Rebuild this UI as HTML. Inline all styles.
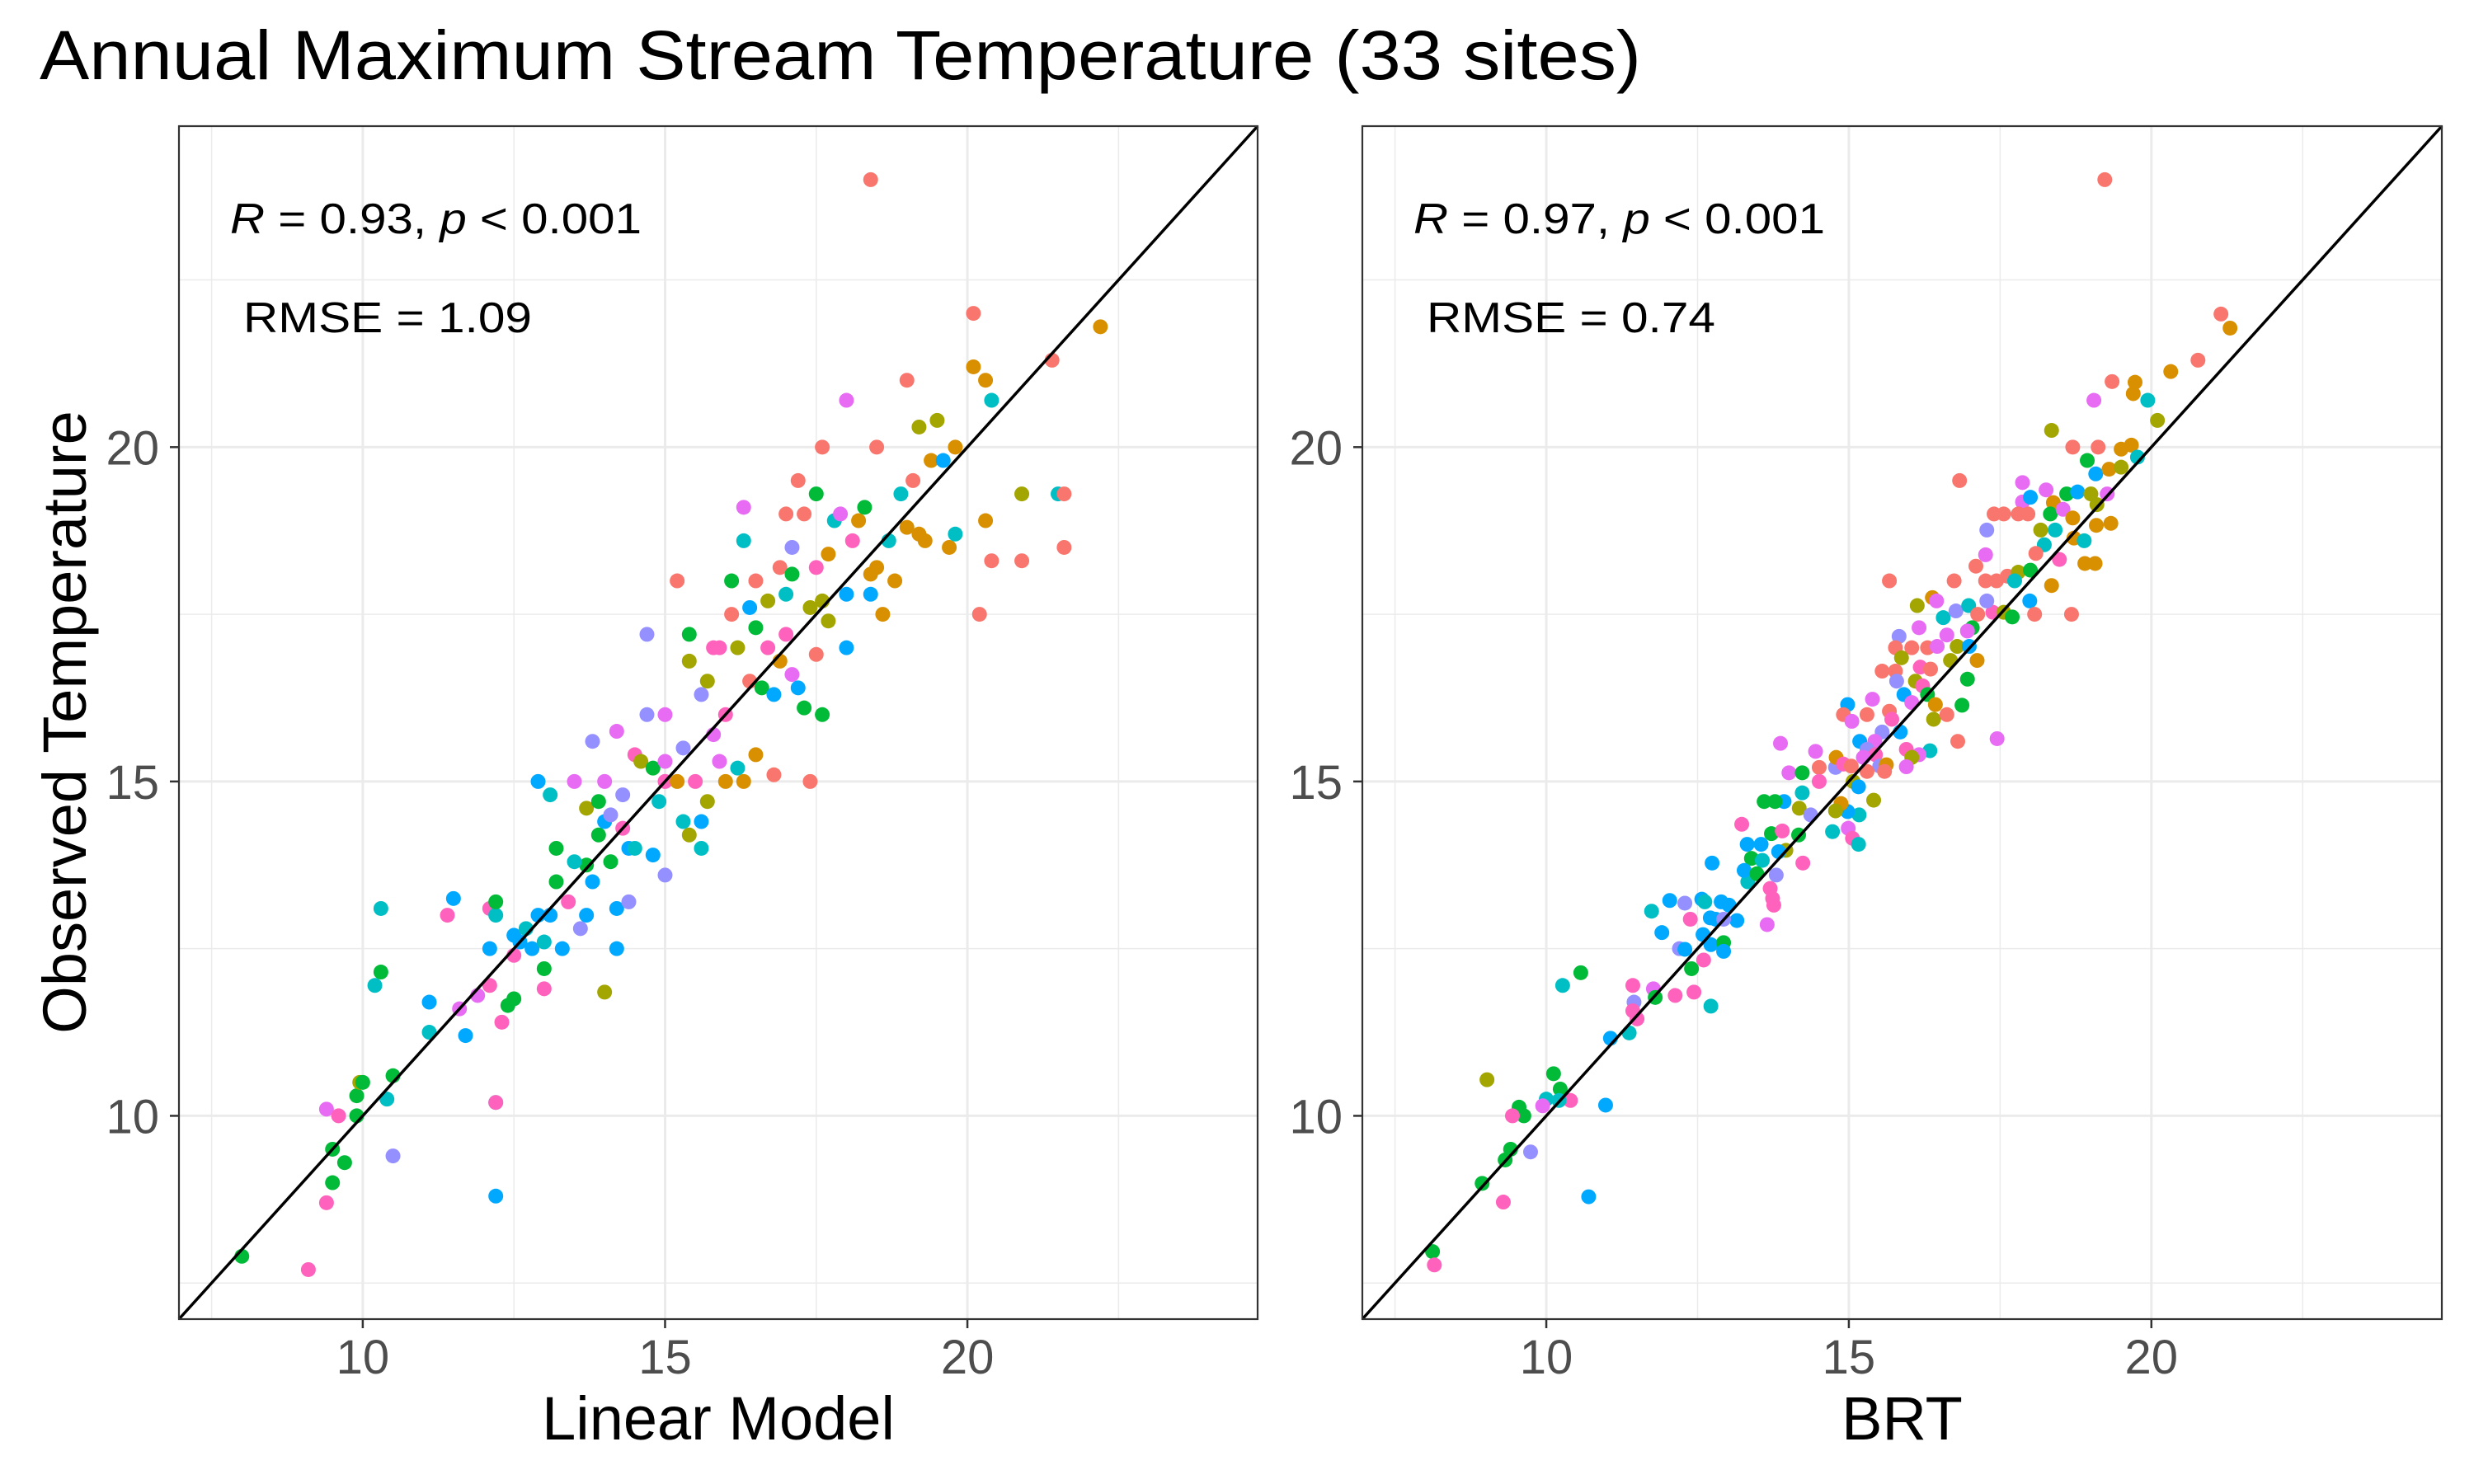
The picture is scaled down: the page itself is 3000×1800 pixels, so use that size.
<!DOCTYPE html>
<html><head><meta charset="utf-8"><style>
html,body{margin:0;padding:0;background:#fff;}
svg{display:block;font-family:"Liberation Sans",Arial,sans-serif;}
</style></head><body>
<svg id="chart" width="3000" height="1800" viewBox="0 0 3000 1800" xmlns="http://www.w3.org/2000/svg">
<rect width="3000" height="1800" fill="#fff"/>
<text x="48" y="96" font-size="84" textLength="1942" lengthAdjust="spacingAndGlyphs" fill="#000">Annual Maximum Stream Temperature (33 sites)</text>
<text transform="translate(104,876) rotate(-90)" text-anchor="middle" font-size="74" fill="#000">Observed Temperature</text>
<g id="p1"></g>
<g id="p2"></g>
</svg>
<script>
const ticks=[10,15,20];
const minorTicks=[7.5,12.5,17.5,22.5];
const domain=[6.96,24.8];
const palette={r:"#F8766D",o:"#D89000",ol:"#A3A500",g:"#00BA38",t:"#00BFC4",b:"#00A9FF",p:"#9590FF",m:"#E76BF3",k:"#FF62BC"};
const lmX=[8.0,9.1,9.4,9.5,9.5,9.7,9.4,9.6,9.9,9.9,9.95,10.0,10.4,10.5,10.5,12.2,12.2,12.2,10.2,10.3,10.3,11.1,11.1,11.4,11.5,11.6,11.7,11.9,12.1,12.1,12.1,12.2,12.2,12.3,12.4,12.5,12.5,12.5,12.6,12.7,12.8,12.9,12.9,13.0,13.0,13.0,13.1,13.1,13.2,13.2,13.3,13.4,13.5,13.6,13.7,13.7,13.7,13.8,13.8,13.9,13.9,14.0,14.0,14.0,14.1,14.1,14.2,14.2,14.2,14.3,14.4,14.4,14.5,14.5,14.6,14.7,14.7,14.8,14.8,14.9,15.0,15.0,15.0,15.2,15.2,15.3,15.3,15.4,15.4,15.4,15.5,15.6,15.6,15.6,15.7,15.7,15.8,15.8,15.9,15.9,16.0,16.0,16.1,16.1,16.2,16.2,16.3,16.3,16.3,16.4,16.4,16.5,16.5,16.6,16.7,16.7,16.8,16.8,16.9,16.9,17.0,17.0,17.1,17.1,17.1,17.2,17.2,17.3,17.3,17.4,17.4,17.5,17.5,17.5,17.6,17.6,17.6,17.7,17.7,17.8,17.9,18.0,18.0,18.0,18.1,18.2,18.3,18.4,18.4,18.4,18.5,18.5,18.6,18.7,18.8,18.9,19.0,19.0,19.1,19.2,19.2,19.3,19.4,19.5,19.6,19.7,19.8,19.8,20.1,20.1,20.2,20.3,20.3,20.4,20.4,20.9,20.9,21.4,21.5,21.6,21.6,22.2,15.0,14.3,13.5,16.5,17.0];
const lmY=[7.9,7.7,8.7,9.0,9.5,9.3,10.1,10.0,10.0,10.3,10.5,10.5,10.25,10.6,9.4,8.8,10.2,10.2,11.95,12.15,13.1,11.7,11.25,13.0,13.25,11.6,11.2,11.8,11.95,12.5,13.1,13.0,13.2,11.4,11.65,11.75,12.4,12.7,12.6,12.8,12.5,13.0,15.0,11.9,12.2,12.6,13.0,14.8,13.5,14.0,12.5,13.2,15.0,12.8,13.0,13.75,14.6,15.6,13.5,14.7,14.2,15.0,14.4,11.85,14.5,13.8,13.1,12.5,15.75,14.3,13.2,14.0,14.0,15.4,15.3,16.0,17.2,15.2,13.9,14.7,16.0,13.6,15.0,18.0,15.0,14.4,15.5,16.8,17.2,14.2,15.0,14.4,16.3,14.0,14.7,16.5,15.7,17.0,15.3,17.0,15.0,16.0,17.5,18.0,17.0,15.2,19.1,18.6,15.0,16.5,17.6,18.0,15.4,16.4,17.0,17.7,16.3,15.1,16.8,18.2,19.0,17.8,18.1,18.5,16.6,19.5,16.4,19.0,16.1,17.6,15.0,18.2,19.3,16.9,16.0,17.7,20.0,18.4,17.4,18.9,19.0,20.7,17.8,17.0,18.6,18.9,19.1,18.1,17.8,24.0,20.0,18.2,17.5,18.6,18.0,19.3,21.0,18.8,19.5,20.3,18.7,18.6,19.8,20.4,19.8,18.5,20.0,18.7,22.0,21.2,17.5,21.0,18.9,18.3,20.7,18.3,19.3,21.3,19.3,19.3,18.5,21.8,15.3,14.8,13.8,17.3,17.2];
const lmC=["g","k","k","g","g","g","m","k","g","g","ol","g","t","g","p","b","t","k","t","g","t","b","t","k","b","m","b","m","k","b","k","t","g","k","g","g","k","b","b","t","b","b","b","k","g","t","b","t","g","g","b","k","m","p","b","g","ol","p","b","g","g","m","b","ol","p","g","b","b","m","k","p","b","t","k","ol","p","p","g","b","t","m","p","k","r","o","t","p","ol","g","ol","k","b","p","t","ol","ol","m","k","m","k","o","k","r","g","ol","t","m","t","o","r","b","r","o","g","k","ol","b","r","o","r","r","t","g","p","m","r","b","r","g","ol","r","k","g","r","g","ol","r","o","ol","t","m","m","b","b","k","o","g","o","b","r","r","o","o","t","o","t","r","o","r","ol","o","o","o","ol","b","o","o","t","r","o","r","o","o","r","t","r","ol","r","t","r","r","o","m","p","t","g","k"];
const brtX=[19.23,21.15,21.3,20.77,20.32,19.35,19.73,19.7,19.05,19.94,20.1,18.35,18.7,19.12,19.5,19.67,19.77,18.94,19.08,19.3,19.5,16.83,17.87,17.87,18.0,18.26,18.38,18.6,18.78,19.0,19.27,19.1,19.33,19.09,17.4,17.56,17.8,17.96,17.28,17.26,18.33,18.54,18.7,18.17,18.41,18.23,18.72,18.89,18.9,19.07,18.48,18.09,17.1,17.26,17.44,17.62,17.8,18.0,17.74,18.35,17.99,15.67,16.74,16.13,16.38,16.45,16.56,16.77,16.98,17.13,17.38,17.56,17.7,18.07,18.68,17.28,17.04,15.83,16.16,15.77,16.04,16.3,16.46,16.62,16.79,16.96,16.99,16.68,17.12,15.87,15.55,15.77,15.79,16.18,16.35,16.1,16.22,16.3,16.43,16.96,16.87,15.91,16.04,15.39,14.98,14.91,15.3,15.67,15.71,15.55,15.85,15.05,16.4,16.62,16.8,17.45,16.34,16.16,15.95,16.04,15.43,15.18,15.3,15.44,15.51,15.24,14.78,14.51,14.45,14.79,14.91,15.04,15.3,15.62,15.95,15.59,15.07,15.16,15.41,15.17,14.98,14.87,14.78,14.73,14.99,15.06,15.16,13.87,14.01,14.23,14.23,14.51,14.18,14.37,14.17,13.93,13.78,13.6,13.23,13.72,13.9,13.96,13.84,13.55,13.32,13.39,13.57,13.33,13.27,13.48,13.8,14.24,12.74,13.7,13.74,13.76,13.65,12.89,13.02,13.15,12.57,12.62,12.29,12.04,11.74,11.91,12.38,12.71,12.8,12.93,12.59,12.72,12.93,12.93,12.2,12.29,12.4,12.6,12.72,12.44,12.13,11.77,11.8,11.43,11.45,11.43,11.5,11.37,11.06,10.57,10.27,10.98,10.4,10.23,10.12,10.21,10.0,9.94,9.55,9.63,9.44,9.02,9.74,9.41,9.32,8.94,9.29,10.7,8.12,8.15];
const brtY=[24.0,21.99,21.78,21.3,21.13,20.98,20.97,20.8,20.7,20.7,20.4,20.25,20.0,20.0,19.97,20.03,19.85,19.8,19.6,19.67,19.7,19.5,19.47,19.18,19.25,19.36,19.17,19.3,19.33,19.3,19.3,19.14,18.86,18.83,19.0,19.0,19.0,19.0,18.76,18.39,19.0,19.07,18.94,18.76,18.76,18.54,18.64,18.6,18.26,18.26,18.32,18.41,18.22,18.0,18.0,18.07,18.13,18.16,18.0,17.93,17.7,18.0,18.0,17.63,17.75,17.7,17.45,17.55,17.63,17.5,17.53,17.53,17.46,17.5,17.5,17.7,17.3,17.17,17.3,17.0,17.0,17.0,17.02,17.19,17.02,17.25,17.02,16.81,16.81,16.85,16.65,16.65,16.5,16.71,16.68,16.5,16.43,16.3,16.15,16.53,16.14,16.3,16.18,16.23,16.15,16.0,16.0,16.05,15.93,15.74,15.74,15.9,15.93,16.0,15.6,15.64,15.46,15.4,15.48,15.36,15.6,15.6,15.48,15.4,15.23,15.36,15.21,15.21,15.45,15.36,15.26,15.23,15.15,15.25,15.22,15.15,15.0,14.92,14.72,14.5,14.55,14.67,14.56,14.25,14.3,14.15,14.06,15.57,15.13,15.13,14.83,15.0,14.6,14.5,14.2,14.7,14.7,14.7,14.36,14.22,14.26,13.97,13.95,14.06,14.06,13.85,13.82,13.5,13.67,13.62,13.6,13.78,13.78,13.4,13.25,13.15,12.86,13.2,13.15,12.92,13.24,13.2,13.18,13.22,13.06,12.74,12.94,12.96,12.94,12.94,12.71,12.56,12.59,12.46,12.5,12.49,12.2,12.33,11.64,11.85,11.8,11.9,11.77,11.95,11.7,11.57,11.45,11.24,11.16,12.14,11.95,10.16,10.23,10.4,10.63,10.23,10.25,10.15,10.13,10.0,10.0,10.54,9.46,9.5,9.34,8.99,8.71,8.79,7.97,7.77];
const brtC=["r","r","o","r","o","r","o","o","m","t","ol","ol","r","r","o","o","t","g","b","o","ol","r","m","m","b","m","o","g","b","ol","m","ol","o","o","r","r","r","r","p","m","g","m","o","ol","t","t","o","t","o","o","k","r","r","r","r","r","ol","g","t","o","b","r","r","ol","o","m","t","p","t","r","k","ol","g","r","r","p","g","p","m","r","r","r","m","m","ol","m","b","ol","o","ol","r","r","p","k","r","ol","k","g","o","g","g","b","m","m","b","r","r","r","k","p","b","m","ol","r","r","m","t","m","k","ol","m","b","p","k","p","m","p","r","m","o","k","r","r","o","m","r","ol","b","ol","t","b","o","ol","t","m","k","t","m","m","g","t","k","ol","p","g","b","g","g","k","g","k","ol","b","b","b","g","t","t","b","g","p","k","b","k","k","k","m","b","b","b","b","t","p","b","t","b","k","b","b","p","b","b","g","b","p","b","g","k","t","k","k","m","g","k","p","k","k","t","b","g","t","b","k","g","g","t","t","m","g","g","k","ol","p","g","g","g","k","b","g","k"];

const NS="http://www.w3.org/2000/svg";
function mk(tag,attrs,parent){const e=document.createElementNS(NS,tag);for(const k in attrs)e.setAttribute(k,attrs[k]);parent.appendChild(e);return e;}

function drawPanel(g,L,R,xs,ys,cs,xlab,stat,rmse){
  const T=153,B=1600;
  const sx=v=>L+(v-domain[0])/(domain[1]-domain[0])*(R-L);
  const sy=v=>B-(v-domain[0])/(domain[1]-domain[0])*(B-T);
  minorTicks.forEach(v=>{
    const a=mk("line",{x1:sx(v),x2:sx(v),y1:T,y2:B,stroke:"#EBEBEB","stroke-width":1.5},g);
    
    
    const b=mk("line",{x1:L,x2:R,y1:sy(v),y2:sy(v),stroke:"#EBEBEB","stroke-width":1.5},g);
    
    
  });
  ticks.forEach(v=>{
    const a=mk("line",{x1:sx(v),x2:sx(v),y1:T,y2:B,stroke:"#EBEBEB","stroke-width":3},g);
    
    
    const b=mk("line",{x1:L,x2:R,y1:sy(v),y2:sy(v),stroke:"#EBEBEB","stroke-width":3},g);
    
    
    const tx=mk("line",{x1:sx(v),x2:sx(v),y1:B,y2:B+11,stroke:"#333","stroke-width":2.5},g);
    
    
    const ty=mk("line",{x1:L-11,x2:L,y1:sy(v),y2:sy(v),stroke:"#333","stroke-width":2.5},g);
    
    
    const lx=mk("text",{x:sx(v),y:1666,"text-anchor":"middle","font-size":58,fill:"#4D4D4D"},g);
    lx.textContent=v;
    
    
    const ly=mk("text",{x:L-24,y:sy(v)+21,"text-anchor":"end","font-size":58,fill:"#4D4D4D"},g);
    ly.textContent=v;
    
    
  });
  xs.forEach((x,i)=>{
    const c=mk("circle",{cx:sx(x),cy:sy(ys[i]),r:9,fill:palette[cs[i]]},g);
    
    
  });
  const d=mk("line",{x1:sx(domain[0]),y1:sy(domain[0]),x2:sx(domain[1]),y2:sy(domain[1]),stroke:"#000","stroke-width":3.5},g);
  
  
  const br=mk("rect",{x:L,y:T,width:R-L,height:B-T,fill:"none",stroke:"#333","stroke-width":2.2},g);
  
  
  const st=mk("text",{x:L+62,y:283,"font-size":52,fill:"#000",textLength:499,lengthAdjust:"spacingAndGlyphs"},g);
  st.innerHTML='<tspan font-style="italic">R</tspan> = '+stat+', <tspan font-style="italic">p</tspan> &lt; 0.001';
  
  
  const rm=mk("text",{x:L+78,y:403,"font-size":52,fill:"#000",textLength:350,lengthAdjust:"spacingAndGlyphs"},g);
  rm.textContent="RMSE = "+rmse;
  
  
  const xl=mk("text",{x:(L+R)/2,y:1746,"text-anchor":"middle","font-size":74,fill:"#000"},g);
  xl.textContent=xlab;
  
  
}
drawPanel(document.getElementById("p1"),217,1525,lmX,lmY,lmC,"Linear Model","0.93","1.09");
drawPanel(document.getElementById("p2"),1652,2961,brtX,brtY,brtC,"BRT","0.97","0.74");
</script>
</body></html>
